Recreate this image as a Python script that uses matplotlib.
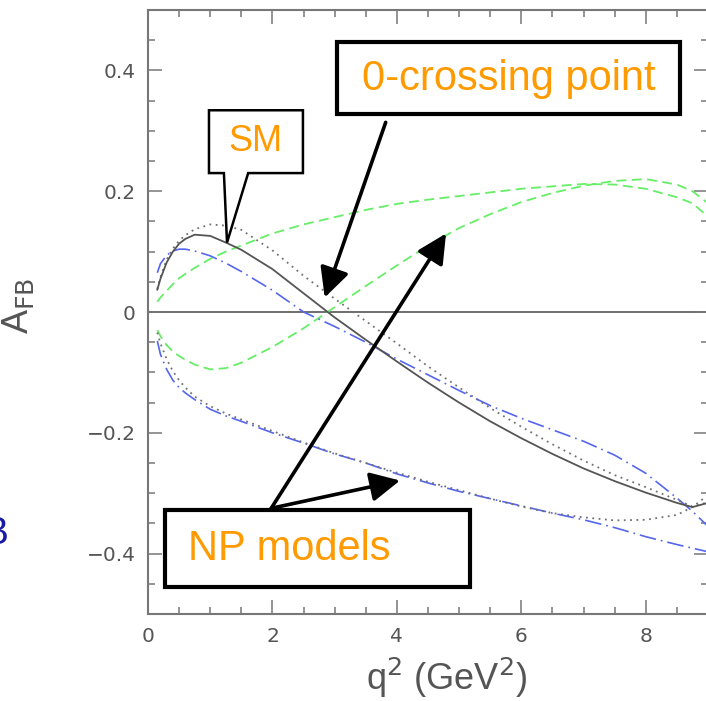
import matplotlib
matplotlib.use("Agg")
import matplotlib.pyplot as plt
from matplotlib.patches import Rectangle, Polygon
from matplotlib.ticker import MultipleLocator

# q^2 grid (GeV^2) shared by all curves
q2 = [0.15, 0.2, 0.3, 0.4, 0.5, 0.6, 0.75, 1.0, 1.25, 1.5, 2.0, 2.5, 3.0, 3.5, 4.0,
      4.5, 5.0, 5.5, 6.0, 6.5, 7.0, 7.5, 8.0, 8.5, 8.75, 9.0]

# A_FB for SM and the new-physics models
afb_sm = [0.037, 0.055, 0.082, 0.100, 0.113, 0.121, 0.128, 0.126, 0.115, 0.103,
          0.071, 0.031, -0.009, -0.046, -0.082, -0.117, -0.150, -0.181, -0.209,
          -0.235, -0.259, -0.280, -0.299, -0.316, -0.323, -0.316]
afb_dot_up = [0.038, 0.058, 0.087, 0.105, 0.118, 0.127, 0.137, 0.145, 0.143, 0.136,
              0.102, 0.060, 0.022, -0.015, -0.052, -0.090, -0.125, -0.159, -0.190,
              -0.219, -0.246, -0.270, -0.290, -0.311, -0.322, -0.315]
afb_dot_low = [-0.034, -0.052, -0.078, -0.098, -0.113, -0.125, -0.140, -0.156, -0.168,
               -0.178, -0.197, -0.216, -0.234, -0.250, -0.266, -0.281, -0.295, -0.309,
               -0.322, -0.333, -0.340, -0.345, -0.344, -0.336, -0.323, -0.303]
afb_blue_up = [0.065, 0.080, 0.094, 0.101, 0.104, 0.104, 0.101, 0.093, 0.081, 0.067,
               0.036, 0.0, -0.024, -0.050, -0.078, -0.104, -0.130, -0.155, -0.176,
               -0.195, -0.214, -0.237, -0.267, -0.308, -0.330, -0.355]
afb_blue_low = [-0.048, -0.070, -0.095, -0.113, -0.125, -0.134, -0.145, -0.161, -0.172,
                -0.181, -0.200, -0.217, -0.235, -0.250, -0.268, -0.283, -0.297, -0.309,
                -0.321, -0.333, -0.344, -0.357, -0.372, -0.385, -0.391, -0.397]
afb_green_up = [0.017, 0.024, 0.035, 0.046, 0.056, 0.063, 0.073, 0.088, 0.100, 0.110,
                0.130, 0.145, 0.157, 0.169, 0.179, 0.186, 0.192, 0.198, 0.204, 0.208,
                0.212, 0.211, 0.204, 0.190, 0.180, 0.158]
afb_green_low = [-0.030, -0.040, -0.055, -0.065, -0.073, -0.079, -0.087, -0.095, -0.093,
                 -0.084, -0.058, -0.027, 0.008, 0.043, 0.077, 0.110, 0.139, 0.162,
                 0.182, 0.197, 0.209, 0.217, 0.220, 0.211, 0.200, 0.180]

x_ticks = [0, 2, 4, 6, 8]
y_ticks = [-0.4, -0.2, 0, 0.2, 0.4]
y_ticklabels = ["\u22120.4", "\u22120.2", "0", "0.2", "0.4"]

orange = "#ff9a00"
gray = "#555555"

fig = plt.figure(figsize=(7.06, 7.01), dpi=100)
ax = fig.add_axes([148 / 706, 87 / 701, 560 / 706, 604 / 701])

ax.axhline(0, color=gray, lw=1.2, zorder=1)

ax.plot(q2, afb_green_up, color="#66ee66", lw=1.3, ls=(0, (5.5, 3)))
ax.plot(q2, afb_green_low, color="#66ee66", lw=1.3, ls=(0, (5.5, 3)))
ax.plot(q2, afb_blue_up, color="#5566ee", lw=1.2, ls=(0, (10, 3, 1, 3)))
ax.plot(q2, afb_blue_low, color="#5566ee", lw=1.2, ls=(0, (10, 3, 1, 3)))
ax.plot(q2, afb_dot_up, color="#707070", lw=1.3, ls=(0, (1, 2.5)))
ax.plot(q2, afb_dot_low, color="#707070", lw=1.3, ls=(0, (1, 2.5)))
ax.plot(q2, afb_sm, color=gray, lw=1.3)

ax.set_xlim(0, 9)
ax.set_ylim(-0.5, 0.5)
ax.set_xticks(x_ticks)
ax.set_yticks(y_ticks)
ax.set_yticklabels(y_ticklabels)
ax.xaxis.set_minor_locator(MultipleLocator(0.5))
ax.yaxis.set_minor_locator(MultipleLocator(0.05))
ax.tick_params(which="both", direction="in", top=True, right=True,
               color="#777777", width=1.1, labelcolor=gray, labelsize=14.5)
ax.tick_params(which="major", length=10)
ax.tick_params(which="minor", length=5)
ax.tick_params(axis="x", pad=9)
ax.tick_params(axis="y", pad=9)
for s in ax.spines.values():
    s.set_color("#777777")
    s.set_linewidth(1.5)

ax.set_xlabel("q$^2$ (GeV$^2$)", fontsize=26, color=gray, family="Liberation Sans")
ax.xaxis.set_label_coords(0.534, -0.07)
ax.set_ylabel("A$_{\\rm FB}$", fontsize=26, color=gray, family="Liberation Sans")
ax.yaxis.set_label_coords(-0.2, 0.51)

# SM callout with a pointer onto the SM curve
sm_box = Polygon([(0.98, 0.334), (2.49, 0.334), (2.49, 0.230), (1.61, 0.230),
                  (1.27, 0.115), (1.22, 0.230), (0.98, 0.230)],
                 closed=True, fc="white", ec="black", lw=1.8, zorder=5)
ax.add_patch(sm_box)
ax.text(1.73, 0.283, "SM", color=orange, fontsize=26, family="Liberation Sans",
        ha="center", va="center", zorder=6)

# zero-crossing box and arrow
ax.add_patch(Rectangle((3.04, 0.327), 5.51, 0.12, fc="white", ec="black",
                       lw=3, zorder=5))
ax.text(5.79, 0.386, "0-crossing point", color=orange, fontsize=30,
        family="Liberation Sans", ha="center", va="center", zorder=6)

arrow = dict(arrowstyle="-|>,head_length=0.9,head_width=0.45", color="black",
             lw=2.6, shrinkA=0, shrinkB=0, mutation_scale=20)
ax.annotate("", xy=(2.84, 0.024), xytext=(3.82, 0.314), arrowprops=arrow, zorder=7)

# NP models box and arrows
ax.add_patch(Rectangle((0.27, -0.456), 4.9, 0.129, fc="white", ec="black",
                       lw=3, zorder=5))
ax.text(0.65, -0.392, "NP models", color=orange, fontsize=30,
        family="Liberation Sans", ha="left", va="center", zorder=6)
ax.annotate("", xy=(4.79, 0.13), xytext=(1.98, -0.325), arrowprops=arrow, zorder=7)
ax.annotate("", xy=(4.05, -0.279), xytext=(1.98, -0.325), arrowprops=arrow, zorder=7)

fig.text(9 / 706, 1 - 534 / 701, "B", color="#1a1aa8", fontsize=28,
         family="Liberation Sans", ha="right", va="center")

fig.savefig("out.png", dpi=100)
